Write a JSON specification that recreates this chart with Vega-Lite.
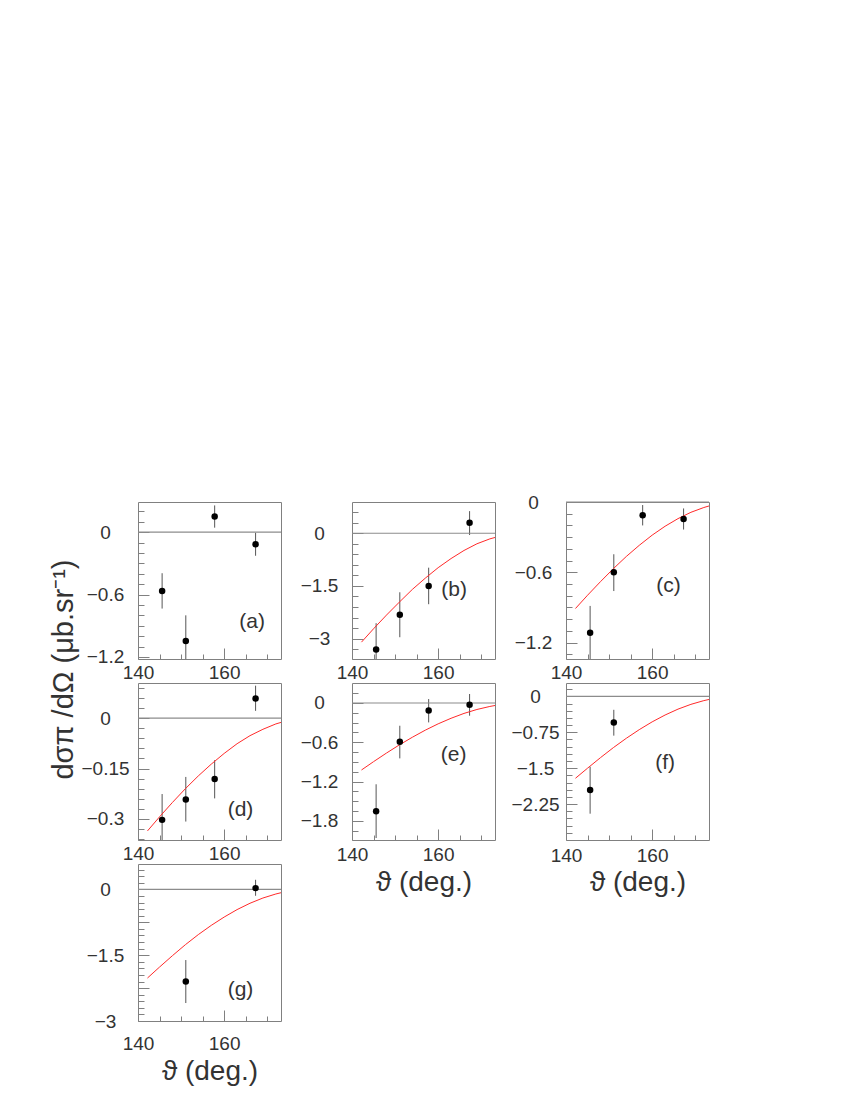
{
  "$schema": "https://vega.github.io/schema/vega-lite/v6.json",
  "padding": {"left": 48, "top": 492, "right": 5, "bottom": 5},
  "background": "white",
  "config": {
    "view": {"stroke": "#808080", "strokeWidth": 1},
    "axis": {"domain": false, "grid": false, "tickColor": "#808080", "tickWidth": 1, "labelFont": "Liberation Sans", "labelFontSize": 19, "labelColor": "#333", "titleFont": "Liberation Sans", "titleFontWeight": "normal", "titleColor": "#333", "labelFlush": false, "labelOverlap": false, "labelBound": false, "tickCount": 100},
    "text": {"font": "Liberation Sans"}
  },
  "datasets": {
    "pts": [
      {"panel": "a", "theta": 145.6, "y": -0.565, "lo": -0.735, "hi": -0.395},
      {"panel": "a", "theta": 151.1, "y": -1.046, "lo": -1.29, "hi": -0.8},
      {"panel": "a", "theta": 157.8, "y": 0.15, "lo": 0.043, "hi": 0.257},
      {"panel": "a", "theta": 167.3, "y": -0.117, "lo": -0.227, "hi": -0.006},
      {"panel": "b", "theta": 145.6, "y": -3.31, "lo": -4.06, "hi": -2.56},
      {"panel": "b", "theta": 151.1, "y": -2.32, "lo": -2.96, "hi": -1.68},
      {"panel": "b", "theta": 157.8, "y": -1.5, "lo": -2.02, "hi": -0.98},
      {"panel": "b", "theta": 167.3, "y": 0.3, "lo": -0.05, "hi": 0.63},
      {"panel": "c", "theta": 145.6, "y": -1.116, "lo": -1.345, "hi": -0.887},
      {"panel": "c", "theta": 151.1, "y": -0.6, "lo": -0.76, "hi": -0.446},
      {"panel": "c", "theta": 157.8, "y": -0.113, "lo": -0.2, "hi": -0.026},
      {"panel": "c", "theta": 167.3, "y": -0.145, "lo": -0.235, "hi": -0.055},
      {"panel": "d", "theta": 145.6, "y": -0.303, "lo": -0.38, "hi": -0.226},
      {"panel": "d", "theta": 151.1, "y": -0.242, "lo": -0.308, "hi": -0.175},
      {"panel": "d", "theta": 157.8, "y": -0.181, "lo": -0.239, "hi": -0.125},
      {"panel": "d", "theta": 167.3, "y": 0.059, "lo": 0.022, "hi": 0.097},
      {"panel": "e", "theta": 145.6, "y": -1.65, "lo": -2.06, "hi": -1.24},
      {"panel": "e", "theta": 151.1, "y": -0.59, "lo": -0.845, "hi": -0.347},
      {"panel": "e", "theta": 157.8, "y": -0.113, "lo": -0.296, "hi": 0.06},
      {"panel": "e", "theta": 167.3, "y": -0.026, "lo": -0.194, "hi": 0.137},
      {"panel": "f", "theta": 145.6, "y": -1.955, "lo": -2.45, "hi": -1.47},
      {"panel": "f", "theta": 151.1, "y": -0.545, "lo": -0.82, "hi": -0.28},
      {"panel": "g", "theta": 151.1, "y": -2.1, "lo": -2.59, "hi": -1.61},
      {"panel": "g", "theta": 167.3, "y": 0.03, "lo": -0.145, "hi": 0.22}
    ],
    "curve": [
      {"panel": "b", "theta": 142.2, "y": -3.1}, {"panel": "b", "theta": 145, "y": -2.72}, {"panel": "b", "theta": 148, "y": -2.33}, {"panel": "b", "theta": 151, "y": -1.96}, {"panel": "b", "theta": 154, "y": -1.6}, {"panel": "b", "theta": 157, "y": -1.28}, {"panel": "b", "theta": 160, "y": -0.98}, {"panel": "b", "theta": 163, "y": -0.72}, {"panel": "b", "theta": 166, "y": -0.49}, {"panel": "b", "theta": 169, "y": -0.3}, {"panel": "b", "theta": 172, "y": -0.16}, {"panel": "b", "theta": 173.2, "y": -0.12},
      {"panel": "c", "theta": 142.2, "y": -0.909}, {"panel": "c", "theta": 145, "y": -0.796}, {"panel": "c", "theta": 148, "y": -0.68}, {"panel": "c", "theta": 151, "y": -0.569}, {"panel": "c", "theta": 154, "y": -0.465}, {"panel": "c", "theta": 157, "y": -0.37}, {"panel": "c", "theta": 160, "y": -0.283}, {"panel": "c", "theta": 163, "y": -0.207}, {"panel": "c", "theta": 166, "y": -0.142}, {"panel": "c", "theta": 169, "y": -0.088}, {"panel": "c", "theta": 172, "y": -0.047}, {"panel": "c", "theta": 173.2, "y": -0.034},
      {"panel": "d", "theta": 142.2, "y": -0.336}, {"panel": "d", "theta": 145, "y": -0.294}, {"panel": "d", "theta": 148, "y": -0.251}, {"panel": "d", "theta": 151, "y": -0.21}, {"panel": "d", "theta": 154, "y": -0.172}, {"panel": "d", "theta": 157, "y": -0.137}, {"panel": "d", "theta": 160, "y": -0.105}, {"panel": "d", "theta": 163, "y": -0.076}, {"panel": "d", "theta": 166, "y": -0.052}, {"panel": "d", "theta": 169, "y": -0.033}, {"panel": "d", "theta": 172, "y": -0.017}, {"panel": "d", "theta": 173.2, "y": -0.0125},
      {"panel": "e", "theta": 142.2, "y": -1.022}, {"panel": "e", "theta": 145, "y": -0.895}, {"panel": "e", "theta": 148, "y": -0.764}, {"panel": "e", "theta": 151, "y": -0.639}, {"panel": "e", "theta": 154, "y": -0.523}, {"panel": "e", "theta": 157, "y": -0.415}, {"panel": "e", "theta": 160, "y": -0.318}, {"panel": "e", "theta": 163, "y": -0.233}, {"panel": "e", "theta": 166, "y": -0.159}, {"panel": "e", "theta": 169, "y": -0.099}, {"panel": "e", "theta": 172, "y": -0.053}, {"panel": "e", "theta": 173.2, "y": -0.038},
      {"panel": "f", "theta": 142.2, "y": -1.71}, {"panel": "f", "theta": 145, "y": -1.5}, {"panel": "f", "theta": 148, "y": -1.28}, {"panel": "f", "theta": 151, "y": -1.07}, {"panel": "f", "theta": 154, "y": -0.875}, {"panel": "f", "theta": 157, "y": -0.695}, {"panel": "f", "theta": 160, "y": -0.532}, {"panel": "f", "theta": 163, "y": -0.389}, {"panel": "f", "theta": 166, "y": -0.266}, {"panel": "f", "theta": 169, "y": -0.166}, {"panel": "f", "theta": 172, "y": -0.088}, {"panel": "f", "theta": 173.2, "y": -0.064},
      {"panel": "g", "theta": 142.2, "y": -2.02}, {"panel": "g", "theta": 145, "y": -1.77}, {"panel": "g", "theta": 148, "y": -1.51}, {"panel": "g", "theta": 151, "y": -1.26}, {"panel": "g", "theta": 154, "y": -1.03}, {"panel": "g", "theta": 157, "y": -0.82}, {"panel": "g", "theta": 160, "y": -0.63}, {"panel": "g", "theta": 163, "y": -0.46}, {"panel": "g", "theta": 166, "y": -0.315}, {"panel": "g", "theta": 169, "y": -0.196}, {"panel": "g", "theta": 172, "y": -0.104}, {"panel": "g", "theta": 173.2, "y": -0.075}
    ],
    "labels": [
      {"panel": "a", "theta": 166.5, "y": -0.865, "text": "(a)"},
      {"panel": "b", "theta": 163.7, "y": -1.61, "text": "(b)"},
      {"panel": "c", "theta": 163.8, "y": -0.72, "text": "(c)"},
      {"panel": "d", "theta": 163.8, "y": -0.274, "text": "(d)"},
      {"panel": "e", "theta": 163.6, "y": -0.79, "text": "(e)"},
      {"panel": "f", "theta": 163.0, "y": -1.39, "text": "(f)"},
      {"panel": "g", "theta": 163.8, "y": -2.29, "text": "(g)"}
    ]
  },
  "columns": 3,
  "spacing": {"row": 24, "column": 71},
  "bounds": "flush",
  "concat": [
    {
      "width": 143, "height": 157,
      "layer": [
        {"data": {"name": "pts"}, "transform": [{"filter": "datum.panel === 'a'"}], "mark": {"type": "rule", "color": "#555", "strokeWidth": 1, "clip": true},
         "encoding": {
           "x": {"field": "theta", "type": "quantitative", "scale": {"domain": [140, 173.2], "nice": false, "zero": false}, "axis": {"values": [140, 145, 150, 155, 160, 165, 170], "tickCount": 100, "labelExpr": "datum.value === 140 ? '140' : datum.value === 160 ? '160' : ''", "tickSize": {"condition": {"test": "datum.value === 140 || datum.value === 160", "value": -11}, "value": -5}, "labelPadding": 24, "labelBaseline": "middle", "labelOverlap": false, "title": null}},
           "y": {"field": "lo", "type": "quantitative", "scale": {"domain": [-1.22, 0.29], "nice": false, "zero": false}, "axis": {"values": [-1.2, -1.1, -1, -0.9, -0.8, -0.7, -0.6, -0.5, -0.4, -0.3, -0.2, -0.1, 0, 0.1, 0.2], "tickCount": 100, "labelExpr": "datum.value === 0 ? '0' : datum.value === -0.6 ? '−0.6' : datum.value === -1.2 ? '−1.2' : ''", "tickSize": {"condition": {"test": "indexof([0, -0.6, -1.2], datum.value) >= 0", "value": -11}, "value": -6}, "labelPadding": 44, "labelAlign": "center", "labelBaseline": "middle", "labelOverlap": false, "title": null}},
           "y2": {"field": "hi"}}},
        {"data": {"values": [{}]}, "mark": {"type": "rule", "color": "#8c8c8c", "strokeWidth": 1.2}, "encoding": {"y": {"datum": 0, "type": "quantitative"}}},
        {"data": {"name": "pts"}, "transform": [{"filter": "datum.panel === 'a'"}], "mark": {"type": "circle", "color": "black", "size": 42, "opacity": 1}, "encoding": {"x": {"field": "theta", "type": "quantitative"}, "y": {"field": "y", "type": "quantitative"}}},
        {"data": {"name": "labels"}, "transform": [{"filter": "datum.panel === 'a'"}], "mark": {"type": "text", "fontSize": 21, "color": "#333"}, "encoding": {"x": {"field": "theta", "type": "quantitative"}, "y": {"field": "y", "type": "quantitative"}, "text": {"field": "text"}}}
      ]
    },
    {
      "width": 143, "height": 157,
      "layer": [
        {"data": {"name": "pts"}, "transform": [{"filter": "datum.panel === 'b'"}], "mark": {"type": "rule", "color": "#555", "strokeWidth": 1, "clip": true},
         "encoding": {
           "x": {"field": "theta", "type": "quantitative", "scale": {"domain": [140, 173.2], "nice": false, "zero": false}, "axis": {"values": [140, 145, 150, 155, 160, 165, 170], "tickCount": 100, "labelExpr": "datum.value === 140 ? '140' : datum.value === 160 ? '160' : ''", "tickSize": {"condition": {"test": "datum.value === 140 || datum.value === 160", "value": -11}, "value": -5}, "labelPadding": 24, "labelBaseline": "middle", "labelOverlap": false, "title": null}},
           "y": {"field": "lo", "type": "quantitative", "scale": {"domain": [-3.58, 0.89], "nice": false, "zero": false}, "axis": {"values": [-3.3, -3, -2.7, -2.4, -2.1, -1.8, -1.5, -1.2, -0.9, -0.6, -0.3, 0, 0.3, 0.6], "tickCount": 100, "labelExpr": "datum.value === 0 ? '0' : datum.value === -1.5 ? '−1.5' : datum.value === -3 ? '−3' : ''", "tickSize": {"condition": {"test": "indexof([0, -1.5, -3], datum.value) >= 0", "value": -11}, "value": -6}, "labelPadding": 44, "labelAlign": "center", "labelBaseline": "middle", "labelOverlap": false, "title": null}},
           "y2": {"field": "hi"}}},
        {"data": {"values": [{}]}, "mark": {"type": "rule", "color": "#8c8c8c", "strokeWidth": 1.2}, "encoding": {"y": {"datum": 0, "type": "quantitative"}}},
        {"data": {"name": "curve"}, "transform": [{"filter": "datum.panel === 'b'"}], "mark": {"type": "line", "color": "#ff2a2a", "strokeWidth": 1, "clip": true}, "encoding": {"x": {"field": "theta", "type": "quantitative"}, "y": {"field": "y", "type": "quantitative"}}},
        {"data": {"name": "pts"}, "transform": [{"filter": "datum.panel === 'b'"}], "mark": {"type": "circle", "color": "black", "size": 42, "opacity": 1}, "encoding": {"x": {"field": "theta", "type": "quantitative"}, "y": {"field": "y", "type": "quantitative"}}},
        {"data": {"name": "labels"}, "transform": [{"filter": "datum.panel === 'b'"}], "mark": {"type": "text", "fontSize": 21, "color": "#333"}, "encoding": {"x": {"field": "theta", "type": "quantitative"}, "y": {"field": "y", "type": "quantitative"}, "text": {"field": "text"}}}
      ]
    },
    {
      "width": 143, "height": 157,
      "layer": [
        {"data": {"name": "pts"}, "transform": [{"filter": "datum.panel === 'c'"}], "mark": {"type": "rule", "color": "#555", "strokeWidth": 1, "clip": true},
         "encoding": {
           "x": {"field": "theta", "type": "quantitative", "scale": {"domain": [140, 173.2], "nice": false, "zero": false}, "axis": {"values": [140, 145, 150, 155, 160, 165, 170], "tickCount": 100, "labelExpr": "datum.value === 140 ? '140' : datum.value === 160 ? '160' : ''", "tickSize": {"condition": {"test": "datum.value === 140 || datum.value === 160", "value": -11}, "value": -5}, "labelPadding": 24, "labelBaseline": "middle", "labelOverlap": false, "title": null}},
           "y": {"field": "lo", "type": "quantitative", "scale": {"domain": [-1.34, 0], "nice": false, "zero": false}, "axis": {"values": [-1.3, -1.2, -1.1, -1, -0.9, -0.8, -0.7, -0.6, -0.5, -0.4, -0.3, -0.2, -0.1, 0], "tickCount": 100, "labelExpr": "datum.value === 0 ? '0' : datum.value === -0.6 ? '−0.6' : datum.value === -1.2 ? '−1.2' : ''", "tickSize": {"condition": {"test": "indexof([0, -0.6, -1.2], datum.value) >= 0", "value": -11}, "value": -6}, "labelPadding": 44, "labelAlign": "center", "labelBaseline": "middle", "labelOverlap": false, "title": null}},
           "y2": {"field": "hi"}}},
        {"data": {"values": [{}]}, "mark": {"type": "rule", "color": "#8c8c8c", "strokeWidth": 1.2}, "encoding": {"y": {"datum": 0, "type": "quantitative"}}},
        {"data": {"name": "curve"}, "transform": [{"filter": "datum.panel === 'c'"}], "mark": {"type": "line", "color": "#ff2a2a", "strokeWidth": 1, "clip": true}, "encoding": {"x": {"field": "theta", "type": "quantitative"}, "y": {"field": "y", "type": "quantitative"}}},
        {"data": {"name": "pts"}, "transform": [{"filter": "datum.panel === 'c'"}], "mark": {"type": "circle", "color": "black", "size": 42, "opacity": 1}, "encoding": {"x": {"field": "theta", "type": "quantitative"}, "y": {"field": "y", "type": "quantitative"}}},
        {"data": {"name": "labels"}, "transform": [{"filter": "datum.panel === 'c'"}], "mark": {"type": "text", "fontSize": 21, "color": "#333"}, "encoding": {"x": {"field": "theta", "type": "quantitative"}, "y": {"field": "y", "type": "quantitative"}, "text": {"field": "text"}}}
      ]
    },
    {
      "width": 143, "height": 157,
      "layer": [
        {"data": {"name": "pts"}, "transform": [{"filter": "datum.panel === 'd'"}], "mark": {"type": "rule", "color": "#555", "strokeWidth": 1, "clip": true},
         "encoding": {
           "x": {"field": "theta", "type": "quantitative", "scale": {"domain": [140, 173.2], "nice": false, "zero": false}, "axis": {"values": [140, 145, 150, 155, 160, 165, 170], "tickCount": 100, "labelExpr": "datum.value === 140 ? '140' : datum.value === 160 ? '160' : ''", "tickSize": {"condition": {"test": "datum.value === 140 || datum.value === 160", "value": -11}, "value": -5}, "labelPadding": 24, "labelBaseline": "middle", "labelOverlap": false, "title": null}},
           "y": {"field": "lo", "type": "quantitative", "scale": {"domain": [-0.363, 0.105], "nice": false, "zero": false}, "axis": {"values": [-0.36, -0.33, -0.3, -0.27, -0.24, -0.21, -0.18, -0.15, -0.12, -0.09, -0.06, -0.03, 0, 0.03, 0.06, 0.09], "tickCount": 100, "labelExpr": "datum.value === 0 ? '0' : datum.value === -0.15 ? '−0.15' : datum.value === -0.3 ? '−0.3' : ''", "tickSize": {"condition": {"test": "indexof([0, -0.15, -0.3], datum.value) >= 0", "value": -11}, "value": -6}, "labelPadding": 44, "labelAlign": "center", "labelBaseline": "middle", "labelOverlap": false, "title": "dσπ /dΩ  (μb.sr⁻¹)", "titleX": -75, "titleY": -14, "titleAngle": -90, "titleAlign": "center", "titleBaseline": "middle", "titleFontSize": 29}},
           "y2": {"field": "hi"}}},
        {"data": {"values": [{}]}, "mark": {"type": "rule", "color": "#8c8c8c", "strokeWidth": 1.2}, "encoding": {"y": {"datum": 0, "type": "quantitative"}}},
        {"data": {"name": "curve"}, "transform": [{"filter": "datum.panel === 'd'"}], "mark": {"type": "line", "color": "#ff2a2a", "strokeWidth": 1, "clip": true}, "encoding": {"x": {"field": "theta", "type": "quantitative"}, "y": {"field": "y", "type": "quantitative"}}},
        {"data": {"name": "pts"}, "transform": [{"filter": "datum.panel === 'd'"}], "mark": {"type": "circle", "color": "black", "size": 42, "opacity": 1}, "encoding": {"x": {"field": "theta", "type": "quantitative"}, "y": {"field": "y", "type": "quantitative"}}},
        {"data": {"name": "labels"}, "transform": [{"filter": "datum.panel === 'd'"}], "mark": {"type": "text", "fontSize": 21, "color": "#333"}, "encoding": {"x": {"field": "theta", "type": "quantitative"}, "y": {"field": "y", "type": "quantitative"}, "text": {"field": "text"}}}
      ]
    },
    {
      "width": 143, "height": 157,
      "layer": [
        {"data": {"name": "pts"}, "transform": [{"filter": "datum.panel === 'e'"}], "mark": {"type": "rule", "color": "#555", "strokeWidth": 1, "clip": true},
         "encoding": {
           "x": {"field": "theta", "type": "quantitative", "scale": {"domain": [140, 173.2], "nice": false, "zero": false}, "axis": {"values": [140, 145, 150, 155, 160, 165, 170], "tickCount": 100, "labelExpr": "datum.value === 140 ? '140' : datum.value === 160 ? '160' : ''", "tickSize": {"condition": {"test": "datum.value === 140 || datum.value === 160", "value": -11}, "value": -5}, "labelPadding": 25, "labelBaseline": "middle", "labelOverlap": false, "title": "ϑ (deg.)", "titleX": 71.5, "titleY": 42, "titleAngle": 0, "titleAlign": "center", "titleBaseline": "middle", "titleFontSize": 28}},
           "y": {"field": "lo", "type": "quantitative", "scale": {"domain": [-2.09, 0.305], "nice": false, "zero": false}, "axis": {"values": [-1.95, -1.8, -1.65, -1.5, -1.35, -1.2, -1.05, -0.9, -0.75, -0.6, -0.45, -0.3, -0.15, 0, 0.15], "tickCount": 100, "labelExpr": "datum.value === 0 ? '0' : datum.value === -0.6 ? '−0.6' : datum.value === -1.2 ? '−1.2' : datum.value === -1.8 ? '−1.8' : ''", "tickSize": {"condition": {"test": "indexof([0, -0.6, -1.2, -1.8], datum.value) >= 0", "value": -11}, "value": -6}, "labelPadding": 44, "labelAlign": "center", "labelBaseline": "middle", "labelOverlap": false, "title": null}},
           "y2": {"field": "hi"}}},
        {"data": {"values": [{}]}, "mark": {"type": "rule", "color": "#8c8c8c", "strokeWidth": 1.2}, "encoding": {"y": {"datum": 0, "type": "quantitative"}}},
        {"data": {"name": "curve"}, "transform": [{"filter": "datum.panel === 'e'"}], "mark": {"type": "line", "color": "#ff2a2a", "strokeWidth": 1, "clip": true}, "encoding": {"x": {"field": "theta", "type": "quantitative"}, "y": {"field": "y", "type": "quantitative"}}},
        {"data": {"name": "pts"}, "transform": [{"filter": "datum.panel === 'e'"}], "mark": {"type": "circle", "color": "black", "size": 42, "opacity": 1}, "encoding": {"x": {"field": "theta", "type": "quantitative"}, "y": {"field": "y", "type": "quantitative"}}},
        {"data": {"name": "labels"}, "transform": [{"filter": "datum.panel === 'e'"}], "mark": {"type": "text", "fontSize": 21, "color": "#333"}, "encoding": {"x": {"field": "theta", "type": "quantitative"}, "y": {"field": "y", "type": "quantitative"}, "text": {"field": "text"}}}
      ]
    },
    {
      "width": 143, "height": 157,
      "layer": [
        {"data": {"name": "pts"}, "transform": [{"filter": "datum.panel === 'f'"}], "mark": {"type": "rule", "color": "#555", "strokeWidth": 1, "clip": true},
         "encoding": {
           "x": {"field": "theta", "type": "quantitative", "scale": {"domain": [140, 173.2], "nice": false, "zero": false}, "axis": {"values": [140, 145, 150, 155, 160, 165, 170], "tickCount": 100, "labelExpr": "datum.value === 140 ? '140' : datum.value === 160 ? '160' : ''", "tickSize": {"condition": {"test": "datum.value === 140 || datum.value === 160", "value": -11}, "value": -5}, "labelPadding": 26, "labelBaseline": "middle", "labelOverlap": false, "title": "ϑ (deg.)", "titleX": 71.5, "titleY": 42, "titleAngle": 0, "titleAlign": "center", "titleBaseline": "middle", "titleFontSize": 28}},
           "y": {"field": "lo", "type": "quantitative", "scale": {"domain": [-3.0, 0.28], "nice": false, "zero": false}, "axis": {"values": [-2.85, -2.7, -2.55, -2.4, -2.25, -2.1, -1.95, -1.8, -1.65, -1.5, -1.35, -1.2, -1.05, -0.9, -0.75, -0.6, -0.45, -0.3, -0.15, 0, 0.15], "tickCount": 100, "labelExpr": "datum.value === 0 ? '0' : datum.value === -0.75 ? '−0.75' : datum.value === -1.5 ? '−1.5' : datum.value === -2.25 ? '−2.25' : ''", "tickSize": {"condition": {"test": "indexof([0, -0.75, -1.5, -2.25], datum.value) >= 0", "value": -11}, "value": -6}, "labelPadding": 42, "labelAlign": "center", "labelBaseline": "middle", "labelOverlap": false, "title": null}},
           "y2": {"field": "hi"}}},
        {"data": {"values": [{}]}, "mark": {"type": "rule", "color": "#8c8c8c", "strokeWidth": 1.2}, "encoding": {"y": {"datum": 0, "type": "quantitative"}}},
        {"data": {"name": "curve"}, "transform": [{"filter": "datum.panel === 'f'"}], "mark": {"type": "line", "color": "#ff2a2a", "strokeWidth": 1, "clip": true}, "encoding": {"x": {"field": "theta", "type": "quantitative"}, "y": {"field": "y", "type": "quantitative"}}},
        {"data": {"name": "pts"}, "transform": [{"filter": "datum.panel === 'f'"}], "mark": {"type": "circle", "color": "black", "size": 42, "opacity": 1}, "encoding": {"x": {"field": "theta", "type": "quantitative"}, "y": {"field": "y", "type": "quantitative"}}},
        {"data": {"name": "labels"}, "transform": [{"filter": "datum.panel === 'f'"}], "mark": {"type": "text", "fontSize": 21, "color": "#333"}, "encoding": {"x": {"field": "theta", "type": "quantitative"}, "y": {"field": "y", "type": "quantitative"}, "text": {"field": "text"}}}
      ]
    },
    {
      "width": 143, "height": 157,
      "layer": [
        {"data": {"name": "pts"}, "transform": [{"filter": "datum.panel === 'g'"}], "mark": {"type": "rule", "color": "#555", "strokeWidth": 1, "clip": true},
         "encoding": {
           "x": {"field": "theta", "type": "quantitative", "scale": {"domain": [140, 173.2], "nice": false, "zero": false}, "axis": {"values": [140, 145, 150, 155, 160, 165, 170], "tickCount": 100, "labelExpr": "datum.value === 140 ? '140' : datum.value === 160 ? '160' : ''", "tickSize": {"condition": {"test": "datum.value === 140 || datum.value === 160", "value": -11}, "value": -5}, "labelPadding": 33, "labelBaseline": "middle", "labelOverlap": false, "title": "ϑ (deg.)", "titleX": 71.5, "titleY": 50, "titleAngle": 0, "titleAlign": "center", "titleBaseline": "middle", "titleFontSize": 28}},
           "y": {"field": "lo", "type": "quantitative", "scale": {"domain": [-3.0, 0.58], "nice": false, "zero": false}, "axis": {"values": [-3, -2.85, -2.7, -2.55, -2.4, -2.25, -2.1, -1.95, -1.8, -1.65, -1.5, -1.35, -1.2, -1.05, -0.9, -0.75, -0.6, -0.45, -0.3, -0.15, 0, 0.15, 0.3, 0.45], "tickCount": 100, "labelExpr": "datum.value === 0 ? '0' : datum.value === -1.5 ? '−1.5' : datum.value === -3 ? '−3' : ''", "tickSize": {"condition": {"test": "indexof([0, -0.75, -1.5, -2.25, -3], datum.value) >= 0", "value": -11}, "value": -6}, "labelPadding": 44, "labelAlign": "center", "labelBaseline": "middle", "labelOverlap": false, "title": null}},
           "y2": {"field": "hi"}}},
        {"data": {"values": [{}]}, "mark": {"type": "rule", "color": "#8c8c8c", "strokeWidth": 1.2}, "encoding": {"y": {"datum": 0, "type": "quantitative"}}},
        {"data": {"name": "curve"}, "transform": [{"filter": "datum.panel === 'g'"}], "mark": {"type": "line", "color": "#ff2a2a", "strokeWidth": 1, "clip": true}, "encoding": {"x": {"field": "theta", "type": "quantitative"}, "y": {"field": "y", "type": "quantitative"}}},
        {"data": {"name": "pts"}, "transform": [{"filter": "datum.panel === 'g'"}], "mark": {"type": "circle", "color": "black", "size": 42, "opacity": 1}, "encoding": {"x": {"field": "theta", "type": "quantitative"}, "y": {"field": "y", "type": "quantitative"}}},
        {"data": {"name": "labels"}, "transform": [{"filter": "datum.panel === 'g'"}], "mark": {"type": "text", "fontSize": 21, "color": "#333"}, "encoding": {"x": {"field": "theta", "type": "quantitative"}, "y": {"field": "y", "type": "quantitative"}, "text": {"field": "text"}}}
      ]
    }
  ]
}
